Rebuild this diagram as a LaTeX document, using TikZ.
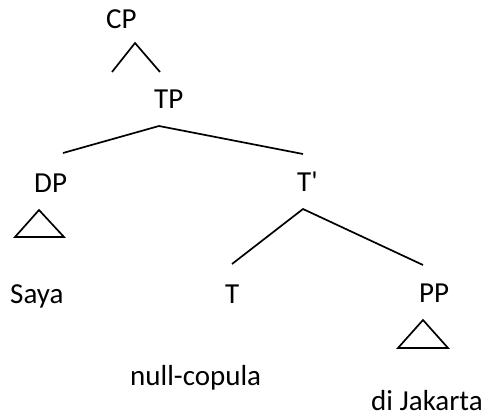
\documentclass[tikz,border=0pt]{standalone}
\usepackage{fontspec}
\setmainfont{Carlito}
\begin{document}
\begin{tikzpicture}[x=1pt,y=-1pt,
  lbl/.style={inner sep=0pt, anchor=base west, font=\fontsize{29}{35}\selectfont},
  edge/.style={line width=1.7pt}]
\useasboundingbox (0,0) rectangle (485,418);

% category labels
\node[lbl] (CP)  at (106,28)  {CP};
\node[lbl] (TP)  at (154,108) {TP};
\node[lbl] (DP)  at (34,192)  {DP};
\node[lbl] (Tb)  at (297,191) {T\textquotesingle};
\node[lbl] (T)   at (225,303) {T};
\node[lbl] (PP)  at (419,302) {PP};

% terminal strings
\node[lbl] (saya) at (10,303)  {Saya};
\node[lbl] (cop)  at (130,385) {null-copula};
\node[lbl] (jkt)  at (371,410) {di Jakarta};

% branch end points
\coordinate (cpTop)   at (135,43);
\coordinate (cpL)     at (112,72);
\coordinate (cpR)     at (160,72);
\coordinate (tpTop)   at (159,126);
\coordinate (tpL)     at (63,153);
\coordinate (tpR)     at (303,154);
\coordinate (tbTop)   at (303,209);
\coordinate (tbL)     at (232,264);
\coordinate (tbR)     at (423,265);

% triangles (roofs)
\coordinate (dpTop)   at (39,210);
\coordinate (dpL)     at (15,237);
\coordinate (dpR)     at (64,237);
\coordinate (ppTop)   at (423,320);
\coordinate (ppL)     at (398,348);
\coordinate (ppR)     at (448,348);

\draw[edge] (cpL) -- (cpTop) -- (cpR);
\draw[edge] (tpL) -- (tpTop) -- (tpR);
\draw[edge] (tbL) -- (tbTop) -- (tbR);
\draw[edge] (dpTop) -- (dpL) -- (dpR) -- cycle;
\draw[edge] (ppTop) -- (ppL) -- (ppR) -- cycle;
\end{tikzpicture}
\end{document}
